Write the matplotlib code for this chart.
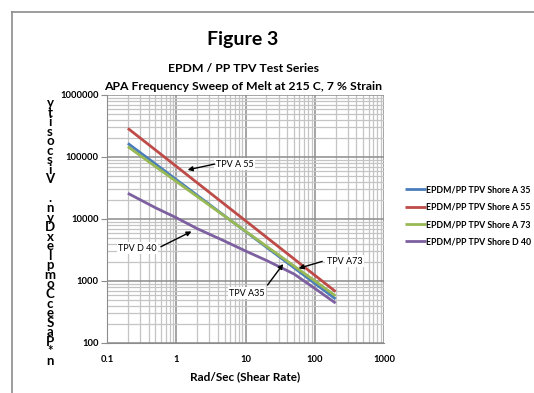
import numpy as np
import matplotlib
matplotlib.use("Agg")
from matplotlib import pyplot as plt
from matplotlib.ticker import LogLocator, FixedLocator, NullFormatter

plt.rcParams['font.family'] = ['Lato', 'DejaVu Sans']

# shear rate (rad/s)
freq = [0.2, 0.5, 1, 2, 5, 10, 20, 50, 100, 200]

# complex viscosity
a35 = [166000, 77300, 43200, 24200, 11200, 6300, 3520, 1640, 916, 513]
a55 = [290000, 130000, 70800, 38500, 17200, 9380, 5100, 2280, 1240, 675]
a73 = [147000, 70300, 40300, 23100, 11100, 6370, 3650, 1750, 1005, 575]
d40 = [26000, 15200, 10500, 7000, 4400, 3050, 2150, 1300, 760, 440]

names = ["EPDM/PP TPV Shore A 35", "EPDM/PP TPV Shore A 55",
         "EPDM/PP TPV Shore A 73", "EPDM/PP TPV Shore D 40"]
colors = ["#4a7ebb", "#be4b48", "#98b954", "#7d60a0"]

xticks = [0.1, 1, 10, 100, 1000]
yticks = [100, 1000, 10000, 100000, 1000000]

fig = plt.figure(figsize=(5.34, 3.93), dpi=100)

# chart frame (only top / left visible in the crop)
fig.add_artist(plt.Line2D([12/534, 12/534], [0, 1-12/393], color="#8c8c8c", lw=1.2))
fig.add_artist(plt.Line2D([12/534, 1], [1-12/393, 1-12/393], color="#8c8c8c", lw=1.2))

ax = fig.add_axes([107/534, 1-343/393, 277/534, 248/393])
ax.set_xscale('log')
ax.set_yscale('log')
ax.set_xlim(0.1, 1000)
ax.set_ylim(100, 1000000)

for y, c, n in zip([a35, a55, a73, d40], colors, names):
    ax.plot(freq, y, color=c, lw=2, label=n, solid_capstyle='butt')

ax.xaxis.set_major_locator(FixedLocator(xticks))
ax.yaxis.set_major_locator(FixedLocator(yticks))
ax.xaxis.set_minor_locator(LogLocator(base=10, subs=np.arange(2, 10)))
ax.yaxis.set_minor_locator(LogLocator(base=10, subs=np.arange(2, 10)))
ax.xaxis.set_minor_formatter(NullFormatter())
ax.yaxis.set_minor_formatter(NullFormatter())
ax.set_xticklabels([str(t) for t in xticks], fontsize=6.8, fontweight='bold')
ax.set_yticklabels([str(t) for t in yticks], fontsize=6.8, fontweight='bold')
ax.tick_params(which='major', axis='y', length=4, color='#8c8c8c', pad=2)
ax.tick_params(which='major', axis='x', length=0, pad=9)
ax.tick_params(which='minor', length=0)

ax.grid(which='major', color='#8c8c8c', lw=1.1)
ax.grid(which='minor', color='#c4c4c4', lw=0.9)
ax.set_axisbelow(True)
for s in ['top', 'right']:
    ax.spines[s].set_visible(False)
for s in ['left', 'bottom']:
    ax.spines[s].set_color('#8c8c8c')

ax.set_xlabel("Rad/Sec (Shear Rate)", fontsize=8.5, fontweight='bold', labelpad=5)

# titles
fig.text(243/534, 1-40/393, "Figure 3", ha='center', va='center', fontsize=14, fontweight='bold')
fig.text(244/534, 1-68/393, "EPDM / PP TPV Test Series", ha='center', va='center',
         fontsize=8.8, fontweight='bold')
fig.text(243/534, 1-86/393, "APA Frequency Sweep of Melt at 215 C, 7 % Strain", ha='center',
         va='center', fontsize=8.8, fontweight='bold')

# stacked (garbled) y axis title
ylab = list("ytisocsiV") + [" "] + list(".nyD") + list("xelpmoC") + list("ceSaP") + ["*", "n"]
fig.text(50/534, 1-97/393, "\n".join(ylab), ha='center', va='top', multialignment='center',
         fontsize=9.5, fontweight='bold', linespacing=0.755)

# annotations
box = dict(boxstyle='square,pad=0.15', fc='white', ec='none')
arr = dict(arrowstyle='-|>', color='black', lw=1, mutation_scale=7, shrinkA=0, shrinkB=0)
ax.text(6.9, 77000, "TPV A 55", fontsize=6.5, ha='center', va='center', bbox=box)
ax.annotate("", xy=(1.46, 62000), xytext=(3.6, 77000), arrowprops=arr)
ax.text(0.145, 3400, "TPV D 40", fontsize=6.5, ha='left', va='center', bbox=box)
ax.annotate("", xy=(1.66, 6300), xytext=(0.6, 3570), arrowprops=arr)
ax.text(10.5, 640, "TPV A35", fontsize=6.5, ha='center', va='center', bbox=box)
ax.annotate("", xy=(35, 1880), xytext=(20.8, 860), arrowprops=arr)
ax.text(148, 2090, "TPV A73", fontsize=6.5, ha='left', va='center', bbox=box)
ax.annotate("", xy=(58.5, 1600), xytext=(128, 2070), arrowprops=arr)

# legend on the right
handles, labels = ax.get_legend_handles_labels()
fig.legend(handles, labels, loc='upper left', bbox_to_anchor=(401/534, 1-181/393),
           frameon=False, prop={'size': 6.3, 'weight': 'bold'}, handlelength=2.3,
           handletextpad=0.1, labelspacing=0.95, borderpad=0)

fig.savefig("out.png", dpi=100)
